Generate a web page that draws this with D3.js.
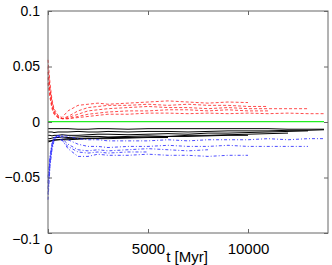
<!DOCTYPE html>
<html>
<head>
<meta charset="UTF-8">
<script src="https://d3js.org/d3.v7.min.js"></script>
<style>
  body { margin: 0; background: #fff; }
  svg { display: block; font-family: "Liberation Sans", Arial, sans-serif; }
</style>
</head>
<body>
<svg width="332" height="265"></svg>
<script>
  // time grid (Myr)
  const times = [0, 100, 200, 300, 500, 700, 1000, 1500, 2000, 2500, 3000, 4000, 5000,
                 6000, 7000, 8000, 9000, 10000, 11000, 12000, 13000, 13800];

  // red dashed series
  const red1 = [0.056, 0.035, 0.02, 0.012, 0.006, 0.004, 0.010, 0.015, 0.016, 0.017, 0.016, 0.017, 0.018, 0.019, 0.018, 0.017, 0.018, 0.0175];
  const red2 = [0.05, 0.03, 0.018, 0.010, 0.005, 0.003, 0.005, 0.010, 0.013, 0.014, 0.015, 0.015, 0.016, 0.015, 0.016, 0.015, 0.015, 0.014, 0.014];
  const red3 = [0.045, 0.028, 0.016, 0.009, 0.004, 0.003, 0.004, 0.007, 0.010, 0.011, 0.012, 0.013, 0.014, 0.013, 0.013, 0.012, 0.013, 0.012, 0.012, 0.012, 0.012];
  const red4 = [0.04, 0.025, 0.014, 0.008, 0.004, 0.003, 0.003, 0.005, 0.007, 0.008, 0.009, 0.010, 0.010, 0.011, 0.011, 0.010, 0.011, 0.010, 0.010];
  const red5 = [0.035, 0.022, 0.012, 0.007, 0.004, 0.003, 0.003, 0.004, 0.005, 0.006, 0.007, 0.007, 0.008, 0.008, 0.0075, 0.008, 0.0075, 0.008, 0.0075, 0.008, 0.0075, 0.0075];

  // black solid series
  const black1 = [-0.006, -0.006, -0.006, -0.006, -0.006, -0.006, -0.006, -0.0065, -0.0065, -0.006, -0.006, -0.0065, -0.006, -0.006, -0.006, -0.006, -0.006, -0.006, -0.006, -0.0065, -0.0065, -0.0065];
  const black2 = [-0.009, -0.009, -0.009, -0.0095, -0.009, -0.009, -0.009, -0.0085, -0.009, -0.009, -0.0085, -0.009, -0.0085, -0.0085, -0.009, -0.0085, -0.008, -0.008, -0.008, -0.0075, -0.0075, -0.007];
  const black3 = [-0.012, -0.012, -0.0125, -0.012, -0.012, -0.0115, -0.012, -0.012, -0.0115, -0.011, -0.011, -0.0115, -0.011, -0.0105, -0.011, -0.010, -0.010, -0.0095, -0.009, -0.0085, -0.008];
  const black4 = [-0.015, -0.015, -0.0145, -0.014, -0.014, -0.0135, -0.014, -0.0135, -0.013, -0.013, -0.0135, -0.013, -0.0125, -0.013, -0.012, -0.012, -0.0115, -0.011, -0.0105, -0.010];
  const black5 = [-0.017, -0.017, -0.0165, -0.016, -0.016, -0.0155, -0.015, -0.015, -0.0145, -0.0145, -0.014, -0.014, -0.0135, -0.013, -0.013, -0.0125, -0.012, -0.012];
  const black6 = [-0.018, -0.0175, -0.017, -0.0165, -0.016, -0.016, -0.016, -0.0155, -0.015, -0.015, -0.015, -0.0145, -0.014, -0.014];

  // blue dash-dot series
  const blue1 = [-0.07, -0.04, -0.025, -0.017, -0.013, -0.012, -0.013, -0.015, -0.016, -0.016, -0.017, -0.017, -0.017, -0.016, -0.017, -0.016, -0.016, -0.016, -0.015, -0.016, -0.015, -0.015];
  const blue2 = [-0.065, -0.038, -0.023, -0.016, -0.012, -0.013, -0.016, -0.020, -0.022, -0.022, -0.023, -0.022, -0.022, -0.021, -0.022, -0.022, -0.021, -0.022, -0.022, -0.022, -0.022];
  const blue3 = [-0.06, -0.035, -0.022, -0.015, -0.012, -0.015, -0.020, -0.025, -0.026, -0.025, -0.026, -0.025, -0.024, -0.025, -0.026, -0.025];
  const blue4 = [-0.055, -0.033, -0.020, -0.014, -0.012, -0.016, -0.024, -0.031, -0.031, -0.029, -0.030, -0.030, -0.029, -0.030, -0.030, -0.031, -0.030, -0.030];
  const blue5 = [-0.05, -0.03, -0.019, -0.014, -0.013, -0.017, -0.022, -0.027, -0.028, -0.027, -0.028, -0.027, -0.027];

  // green reference
  const green = times.map(() => 0.0003);

  const xTicks = [0, 5000, 10000];
  const yTicks = [-0.1, -0.05, 0, 0.05, 0.1];

  const svg = d3.select("svg");
  const x = d3.scaleLinear().domain([0, 14000]).range([48, 328]);
  const y = d3.scaleLinear().domain([-0.1, 0.1]).range([233, 11]);

  const line = d3.line()
    .x((d, i) => x(times[i]))
    .y(d => y(d));

  const groups = [
    { data: [red1, red2, red3, red4, red5], color: "#ff2020", dash: "3,2", opacity: 0.8, w: 1 },
    { data: [black1, black2, black3, black4, black5, black6], color: "#000", dash: null, opacity: 1, w: 1 },
    { data: [blue1, blue2, blue3, blue4, blue5], color: "#2020ff", dash: "3,2,1,2", opacity: 0.8, w: 1 },
    { data: [green], color: "#22ee22", dash: null, opacity: 1, w: 1.4 }
  ];

  groups.forEach(g => {
    svg.append("g").selectAll("path")
      .data(g.data)
      .join("path")
      .attr("fill", "none")
      .attr("stroke", g.color)
      .attr("stroke-width", g.w)
      .attr("stroke-opacity", g.opacity)
      .attr("stroke-dasharray", g.dash)
      .attr("d", line);
  });

  // frame
  svg.append("rect")
    .attr("x", x(0)).attr("y", y(0.1))
    .attr("width", x(14000) - x(0)).attr("height", y(-0.1) - y(0.1))
    .attr("fill", "none").attr("stroke", "#666");

  const fmtY = d => d === 0 ? "0" : d3.format("")(d).replace("-", "\u2212");

  // axes, ticks inward
  const yl = svg.append("g").attr("transform", `translate(${x(0)},0)`)
    .call(d3.axisLeft(y).tickValues(yTicks).tickSize(-4).tickPadding(8).tickFormat(fmtY));
  svg.append("g").attr("transform", `translate(${x(14000)},0)`)
    .call(d3.axisRight(y).tickValues(yTicks).tickSize(-4).tickFormat(""));
  const xl = svg.append("g").attr("transform", `translate(0,${y(-0.1)})`)
    .call(d3.axisBottom(x).tickValues(xTicks).tickSize(-4).tickPadding(10).tickFormat(d3.format("d")));
  svg.append("g").attr("transform", `translate(0,${y(0.1)})`)
    .call(d3.axisTop(x).tickValues(xTicks).tickSize(-4).tickFormat(""));

  svg.selectAll(".domain").remove();
  svg.selectAll(".tick line").attr("stroke", "#666");
  yl.selectAll("text").attr("font-size", 14).attr("fill", "#000").attr("font-family", "Liberation Sans, Arial, sans-serif");
  yl.selectAll(".tick").filter(d => d === -0.1).select("text").attr("dy", "0.75em");
  xl.selectAll("text").attr("font-size", 15).attr("fill", "#000").attr("font-family", "Liberation Sans, Arial, sans-serif");

  svg.append("text")
    .attr("x", 187).attr("y", 262)
    .attr("text-anchor", "middle")
    .attr("font-size", 15)
    .text("t [Myr]");
</script>
</body>
</html>
